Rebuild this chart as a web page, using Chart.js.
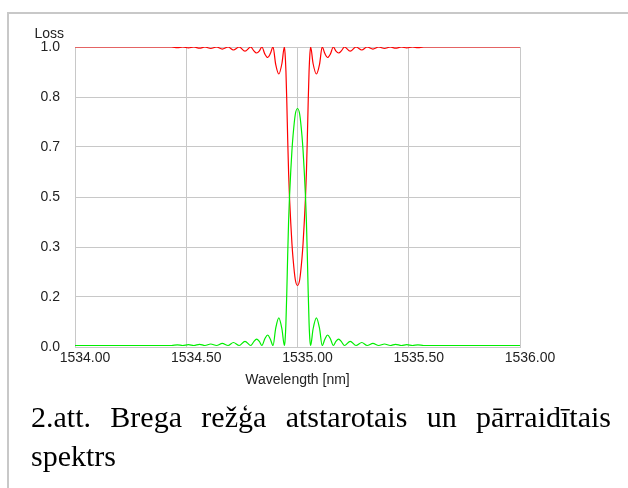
<!DOCTYPE html>
<html>
<head>
<meta charset="utf-8">
<script src="https://cdn.jsdelivr.net/npm/chart.js@4.4.0/dist/chart.umd.min.js"></script>
<style>
  body { margin: 0; background: #fff; width: 628px; height: 488px; overflow: hidden; position: relative; }
  #frame { position: absolute; left: 7px; top: 12px; width: 700px; height: 600px; border-top: 2px solid #c8c8c8; border-left: 2px solid #c8c8c8; }
  #chartBox { position: absolute; left: 0; top: 0; width: 628px; height: 400px; }
  .caption { position: absolute; left: 31px; width: 580px; font-family: "Liberation Serif", "Times New Roman", serif; font-size: 30px; line-height: 38.5px; color: #000; white-space: nowrap; }
  #cap1 { top: 398px; text-align: justify; text-align-last: justify; }
  #cap2 { top: 436.5px; }
</style>
</head>
<body>
<div id="frame"></div>
<div id="chartBox"><canvas id="myChart"></canvas></div>
<div class="caption" id="cap1">2.att. Brega režģa atstarotais un pārraidītais</div>
<div class="caption" id="cap2">spektrs</div>
<script>
// wavelength [nm]
const wavelengths = [
  1534.000, 1534.434, 1534.460, 1534.484, 1534.510, 1534.534, 1534.560, 1534.584,
  1534.610, 1534.636, 1534.662, 1534.688, 1534.712, 1534.738, 1534.764, 1534.790,
  1534.803, 1534.816, 1534.829, 1534.840, 1534.853, 1534.866, 1534.878, 1534.890,
  1534.902, 1534.916, 1534.930, 1534.941, 1534.944, 1534.948, 1534.952, 1534.956,
  1534.960, 1534.964, 1534.970, 1534.975, 1534.980, 1534.990, 1535.000,
  1535.010, 1535.020, 1535.025, 1535.030, 1535.036, 1535.040, 1535.044, 1535.048,
  1535.052, 1535.056, 1535.059, 1535.070, 1535.085, 1535.099, 1535.111, 1535.123,
  1535.135, 1535.148, 1535.161, 1535.172, 1535.185, 1535.198, 1535.211, 1535.237,
  1535.263, 1535.289, 1535.313, 1535.339, 1535.365, 1535.391, 1535.417, 1535.441,
  1535.467, 1535.491, 1535.517, 1535.541, 1535.567, 1536.000
]
// transmitted (red)
const transmitted = [
  1.000, 1.000, 0.998, 1.000, 0.997, 1.000, 0.996, 1.000,
  0.995, 1.000, 0.993, 1.000, 0.990, 1.000, 0.986, 1.000,
  0.988, 0.980, 0.987, 1.000, 0.977, 0.965, 0.978, 1.000,
  0.942, 0.910, 0.945, 1.000, 0.980, 0.920, 0.815, 0.690,
  0.580, 0.500, 0.410, 0.345, 0.295, 0.225, 0.205,
  0.225, 0.295, 0.345, 0.410, 0.500, 0.580, 0.690, 0.815,
  0.920, 0.980, 1.000, 0.945, 0.910, 0.942, 1.000, 0.978,
  0.965, 0.977, 1.000, 0.987, 0.980, 0.988, 1.000, 0.986,
  1.000, 0.990, 1.000, 0.993, 1.000, 0.995, 1.000, 0.996,
  1.000, 0.997, 1.000, 0.998, 1.000, 1.000
]
// reflected (green)
const reflected = [
  0.005, 0.005, 0.007, 0.005, 0.008, 0.005, 0.009, 0.005,
  0.010, 0.005, 0.012, 0.005, 0.015, 0.005, 0.019, 0.005,
  0.017, 0.026, 0.018, 0.005, 0.027, 0.040, 0.026, 0.005,
  0.062, 0.097, 0.060, 0.005, 0.020, 0.080, 0.185, 0.310,
  0.420, 0.500, 0.590, 0.655, 0.705, 0.775, 0.795,
  0.775, 0.705, 0.655, 0.590, 0.500, 0.420, 0.310, 0.185,
  0.080, 0.020, 0.005, 0.060, 0.097, 0.062, 0.005, 0.026,
  0.040, 0.027, 0.005, 0.018, 0.026, 0.017, 0.005, 0.019,
  0.005, 0.015, 0.005, 0.012, 0.005, 0.010, 0.005, 0.009,
  0.005, 0.008, 0.005, 0.007, 0.005, 0.005
]

const xTicks = [1534.0, 1534.5, 1535.0, 1535.5, 1536.0]
const xTickLabels = ['1534.00', '1534.50', '1535.00', '1535.50', '1536.00']
const yTicks = [0, 0.1667, 0.3333, 0.5, 0.6667, 0.8333, 1.0]
const yTickLabels = ['0.0', '0.2', '0.3', '0.5', '0.7', '0.8', '1.0']

const fontFamily = '"Liberation Sans", Arial, sans-serif'
const textColor = '#222'
const gridColor = '#c8c8c8'

const toPoints = (vals) => wavelengths.map((w, i) => ({ x: w, y: vals[i] }))

const lossLabel = {
  id: 'lossLabel',
  afterDraw(chart) {
    const ctx = chart.ctx
    ctx.save()
    ctx.font = '14px ' + fontFamily
    ctx.fillStyle = textColor
    ctx.textAlign = 'right'
    ctx.textBaseline = 'alphabetic'
    ctx.fillText('Loss', chart.chartArea.left - 11, chart.chartArea.top - 9)
    ctx.restore()
  }
}

new Chart(document.getElementById('myChart'), {
  type: 'line',
  data: {
    datasets: [
      {
        label: 'Reflected',
        data: toPoints(reflected),
        borderColor: '#00ee00',
        borderWidth: 1.2,
        pointRadius: 0,
        cubicInterpolationMode: 'monotone'
      },
      {
        label: 'Transmitted',
        data: toPoints(transmitted),
        borderColor: '#ff0000',
        borderWidth: 1.2,
        pointRadius: 0,
        cubicInterpolationMode: 'monotone'
      }
    ]
  },
  options: {
    responsive: true,
    maintainAspectRatio: false,
    animation: false,
    layout: { padding: { top: 47, right: 108, left: 0, bottom: 0 } },
    plugins: {
      legend: { display: false },
      tooltip: { enabled: false }
    },
    scales: {
      x: {
        type: 'linear',
        min: 1534,
        max: 1536,
        afterBuildTicks: (scale) => { scale.ticks = xTicks.map(v => ({ value: v })) },
        afterFit: (scale) => { scale.height = 53 },
        ticks: {
          callback: (v) => xTickLabels[xTicks.indexOf(v)],
          font: { family: fontFamily, size: 14 },
          color: textColor,
          padding: 3,
          labelOffset: 10,
          maxRotation: 0,
          autoSkip: false
        },
        grid: { color: gridColor, lineWidth: 1, drawTicks: false },
        border: { color: gridColor },
        title: {
          display: true,
          text: 'Wavelength [nm]',
          font: { family: fontFamily, size: 14 },
          color: textColor,
          padding: { top: 0, bottom: 11 }
        }
      },
      y: {
        type: 'linear',
        min: 0,
        max: 1,
        afterBuildTicks: (scale) => { scale.ticks = yTicks.map(v => ({ value: v })) },
        afterFit: (scale) => { scale.width = 75 },
        ticks: {
          callback: (v) => yTickLabels[yTicks.indexOf(v)],
          font: { family: fontFamily, size: 14 },
          color: textColor,
          padding: 15,
          autoSkip: false
        },
        grid: { color: gridColor, lineWidth: 1, drawTicks: false },
        border: { color: gridColor }
      }
    }
  },
  plugins: [lossLabel]
})
</script>
</body>
</html>
